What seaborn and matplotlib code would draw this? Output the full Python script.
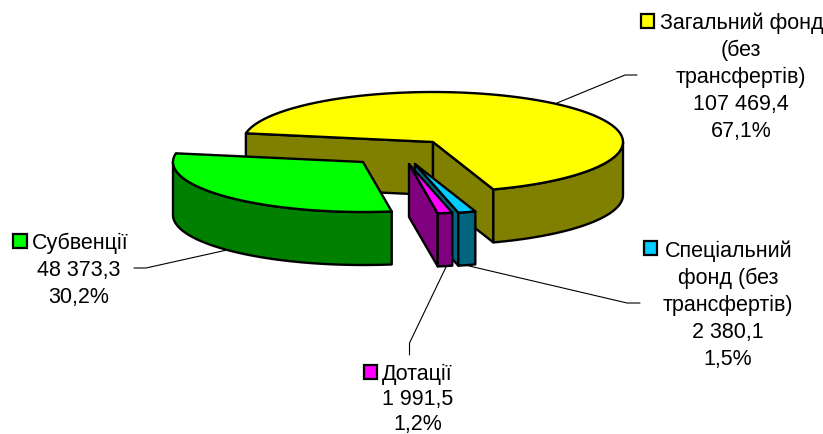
"""
Exploded 3D-look pie of budget funds, drawn on a pixel-sized axes.
"""
import numpy as np
import matplotlib.pyplot as plt
import seaborn as sns

sns.set_theme(style="white")
plt.rcParams['font.family'] = ['Liberation Sans', 'DejaVu Sans']

names = ['Загальний фонд', 'Спеціальний', 'Дотації', 'Субвенції']
extra_lines = [['(без', 'трансфертів)'], ['фонд (без', 'трансфертів)'], [], []]
values = [107469.4, 2380.1, 1991.5, 48373.3]
value_labels = ['107 469,4', '2 380,1', '1 991,5', '48 373,3']
percent_labels = ['67,1%', '1,5%', '1,2%', '30,2%']

top_colors = ['#FFFF00', '#00CCFF', '#FF00FF', '#00FF00']
side_colors = ['#808000', '#006680', '#800080', '#008000']

# pie geometry in pixels
rx, ry, depth = 190., 50., 53.
start = 170.
apex = [(433, 143), (415, 165), (409, 165), (363, 163)]
draw_order = [0, 3, 1, 2]

# key box left/top, first text x, first baseline, centre x of other lines, line step
label_pos = [(641, 15, 660, 29, 741, 27),
             (644, 242, 665, 257, 728, 27),
             (364, 366, 382, 380, 418, 25),
             (13.5, 235, 32, 249, 79, 27)]
leaders = [([557, 625, 637], [104, 76, 76]),
           ([465, 627, 640], [266, 304, 304]),
           ([446, 409.5, 409.5], [268, 344, 356]),
           ([134, 146, 227], [269, 269, 251])]

fs = 15.5

fig = plt.figure(figsize=[8.23, 4.35], dpi=100)
ax = fig.add_axes([0, 0, 1, 1])
ax.set_xlim(0, 823)
ax.set_ylim(435, 0)
ax.axis('off')

for xs, ys in leaders:
    ax.plot(xs, ys, color='black', lw=0.8, zorder=1)


def arc(cx, cy, t0, t1):
    t = np.radians(np.linspace(t0, t1, 120))
    return cx + rx*np.cos(t), cy - ry*np.sin(t)


share = np.array(values)/np.sum(values)*360.
ends = start - np.cumsum(share)
starts = ends + share
style = dict(edgecolor='black', lw=1.7, joinstyle='round', zorder=2)

for i in draw_order:
    cx, cy = apex[i]
    t0, t1 = starts[i], ends[i]
    # cut faces, only the ones turned to the viewer
    for t, seen in [(t0, np.cos(np.radians(t0)) < 0), (t1, np.cos(np.radians(t1)) > 0)]:
        if seen:
            ex, ey = arc(cx, cy, t, t)
            ax.fill([cx, ex[0], ex[0], cx], [cy, ey[0], ey[0]+depth, cy+depth],
                    facecolor=side_colors[i], **style)
    # outer wall, front half only
    lo, hi = max(t1, -180.), min(t0, 0.)
    if hi > lo:
        ax_, ay_ = arc(cx, cy, hi, lo)
        ax.fill(np.r_[ax_, ax_[::-1]], np.r_[ay_, ay_[::-1]+depth],
                facecolor=side_colors[i], **style)
    # top
    tx, ty = arc(cx, cy, t0, t1)
    ax.fill(np.r_[cx, tx], np.r_[cy, ty], facecolor=top_colors[i], **style)

for i in range(4):
    kx, ky, tx, ty, cx, step = label_pos[i]
    ax.add_patch(plt.Rectangle((kx, ky), 13.5, 13.5, facecolor=top_colors[i],
                               edgecolor='black', lw=1.6, zorder=3))
    ax.text(tx, ty, names[i], fontsize=fs, color='black', ha='left', va='baseline')
    rest = extra_lines[i] + [value_labels[i], percent_labels[i]]
    for j, line in enumerate(rest):
        ax.text(cx, ty + step*(j+1), line, fontsize=fs, color='black',
                ha='center', va='baseline')

fig.savefig('out.png', dpi=100)
